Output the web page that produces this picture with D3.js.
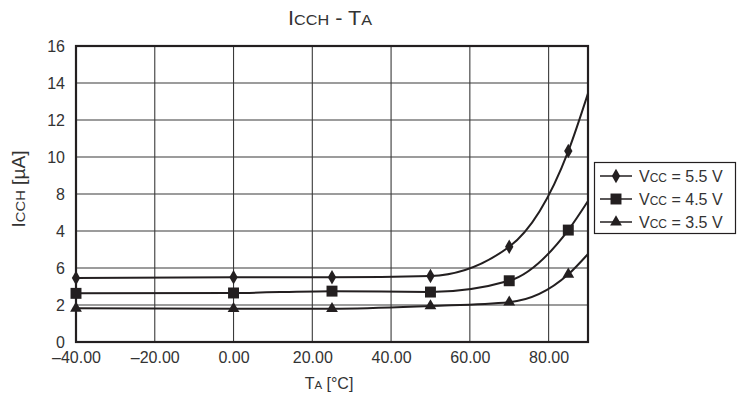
<!DOCTYPE html>
<html><head><meta charset="utf-8">
<script src="https://cdn.jsdelivr.net/npm/d3@7"></script>
<style>body{margin:0;background:#fff}svg{display:block;font-family:"Liberation Sans",Arial,sans-serif}</style>
</head><body>
<svg id="c" width="738" height="396"></svg>
<script>
const temps = [-40, 0, 25, 50, 70, 85];
const endTemp = 90;
const v55 = [3.46, 3.5, 3.5, 3.57, 5.15, 10.32];
const v55End = 13.44;
const v45 = [2.63, 2.65, 2.75, 2.7, 3.31, 6.05];
const v45End = 7.62;
const v35 = [1.82, 1.8, 1.8, 1.95, 2.15, 3.66];
const v35End = 4.76;
const xTicks = [-40, -20, 0, 20, 40, 60, 80];
const xTickLabels = ["\u201340.00", "\u201320.00", "0.00", "20.00", "40.00", "60.00", "80.00"];
const yTicks = [0, 2, 4, 6, 8, 10, 12, 14, 16];
const yTickLabels = ["0", "2", "6", "4", "8", "10", "12", "14", "16"];
const seriesNames = ["5.5 V", "4.5 V", "3.5 V"];

const svg = d3.select("#c");
const L = 76, R = 588, T = 46, B = 342;
const x = d3.scaleLinear().domain([-40, 90]).range([L, R]);
const y = d3.scaleLinear().domain([0, 16]).range([B, T]);
const ink = "#231f20", txt = "#333";
const FF = "Liberation Sans, Arial, sans-serif";

// grid
const g = svg.append("g");
g.selectAll(".vg").data(xTicks.slice(1)).join("line")
  .attr("x1", d => x(d)).attr("x2", d => x(d)).attr("y1", T).attr("y2", B)
  .attr("stroke", "#3a3a3a").attr("stroke-width", 1.1);
g.selectAll(".hg").data(yTicks.slice(1, -1)).join("line")
  .attr("x1", L).attr("x2", R).attr("y1", d => y(d)).attr("y2", d => y(d))
  .attr("stroke", "#3a3a3a").attr("stroke-width", 1.1);

// axes (labels only)
const xAxis = d3.axisBottom(x).tickValues(xTicks).tickSize(0).tickPadding(10)
  .tickFormat((d, i) => xTickLabels[i]);
const xa = svg.append("g").attr("transform", `translate(0,${B})`).call(xAxis);
xa.select(".domain").remove();
xa.selectAll("text").attr("font-size", 16).attr("fill", txt).attr("font-family", FF);

const yAxis = d3.axisLeft(y).tickValues(yTicks).tickSize(0).tickPadding(11)
  .tickFormat((d, i) => yTickLabels[i]);
const ya = svg.append("g").attr("transform", `translate(${L},0)`).call(yAxis);
ya.select(".domain").remove();
ya.selectAll("text").attr("font-size", 16).attr("fill", txt).attr("font-family", FF);

// frame
svg.append("rect").attr("x", L).attr("y", T).attr("width", R - L).attr("height", B - T)
  .attr("fill", "none").attr("stroke", ink).attr("stroke-width", 2.2);

// series
const series = [
  {vals: v55, end: v55End, sym: d3.symbolDiamond, size: 60},
  {vals: v45, end: v45End, sym: d3.symbolSquare, size: 120},
  {vals: v35, end: v35End, sym: d3.symbolTriangle, size: 60}
];
const line = d3.line().x(d => x(d[0])).y(d => y(d[1])).curve(d3.curveMonotoneX);
series.forEach(s => {
  const pts = temps.map((t, i) => [t, s.vals[i]]).concat([[endTemp, s.end]]);
  svg.append("path").attr("d", line(pts)).attr("fill", "none")
    .attr("stroke", ink).attr("stroke-width", 2);
  svg.selectAll(null).data(temps.map((t, i) => [t, s.vals[i]])).join("path")
    .attr("d", d3.symbol().type(s.sym).size(s.size))
    .attr("transform", d => `translate(${x(d[0])},${y(d[1])})`)
    .attr("fill", ink);
});

// title
const title = svg.append("text").attr("x", 330).attr("y", 25).attr("text-anchor", "middle")
  .attr("fill", txt).attr("font-size", 20).attr("textLength", 84).attr("lengthAdjust", "spacingAndGlyphs");
title.append("tspan").text("I");
title.append("tspan").attr("font-size", 15).text("CCH");
title.append("tspan").text(" - T");
title.append("tspan").attr("font-size", 15).text("A");

// x label
const xl = svg.append("text").attr("x", 329).attr("y", 389).attr("text-anchor", "middle")
  .attr("fill", txt).attr("font-size", 16);
xl.append("tspan").text("T");
xl.append("tspan").attr("font-size", 11.5).text("A");
xl.append("tspan").text(" [°C]");

// y label
const yl = svg.append("text").attr("transform", "translate(25,189) rotate(-90)")
  .attr("text-anchor", "middle").attr("fill", txt).attr("font-size", 17.5)
  .attr("textLength", 77).attr("lengthAdjust", "spacingAndGlyphs");
yl.append("tspan").text("I");
yl.append("tspan").attr("font-size", 13.5).text("CCH");
yl.append("tspan").text(" [µA]");

// legend
const lg = svg.append("g");
lg.append("rect").attr("x", 594.5).attr("y", 162.5).attr("width", 141).attr("height", 71)
  .attr("fill", "#fff").attr("stroke", ink).attr("stroke-width", 1.2);
series.forEach((s, i) => {
  const cy = 176 + i * 23;
  lg.append("line").attr("x1", 600).attr("x2", 632).attr("y1", cy).attr("y2", cy)
    .attr("stroke", ink).attr("stroke-width", 1.5);
  lg.append("path").attr("d", d3.symbol().type(s.sym).size(s.size))
    .attr("transform", `translate(616,${cy})`).attr("fill", ink);
  const t = lg.append("text").attr("x", 639).attr("y", cy + 6).attr("fill", txt).attr("font-size", 16);
  t.append("tspan").text("V");
  t.append("tspan").attr("font-size", 12).text("CC");
  t.append("tspan").text(" = " + seriesNames[i]);
});
</script>
</body></html>
